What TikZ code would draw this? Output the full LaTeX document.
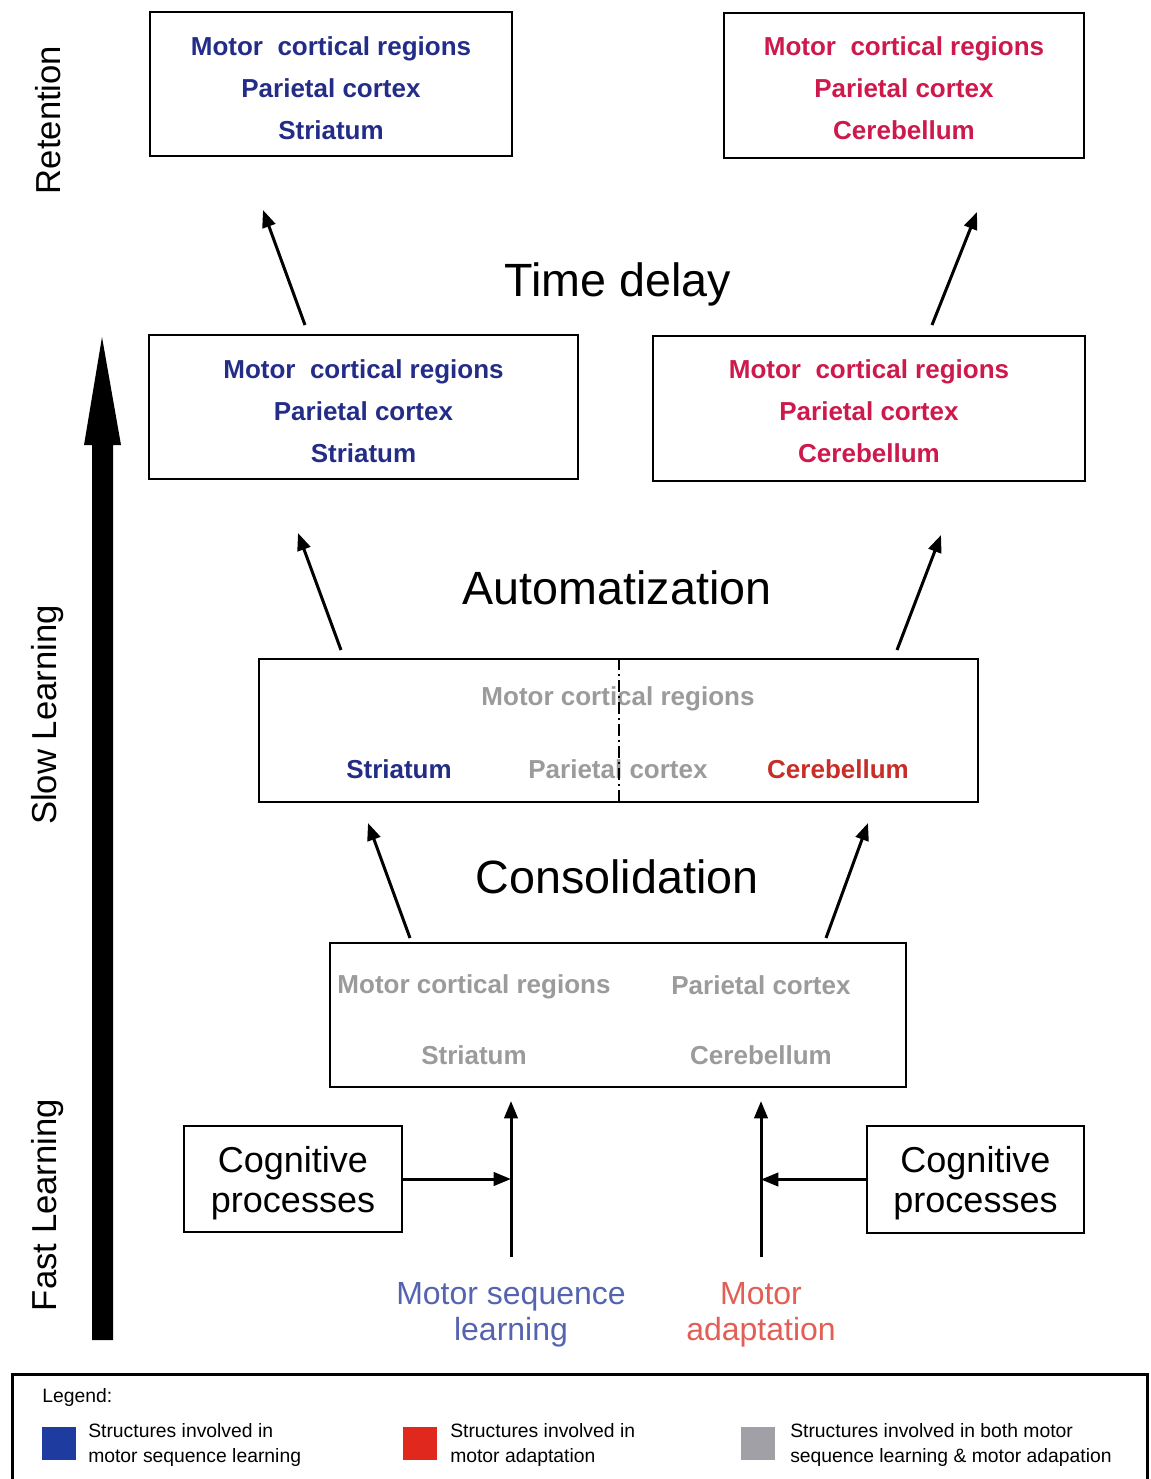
\documentclass[tikz,border=0pt]{standalone}
\usepackage{fontspec}
\setmainfont{Liberation Sans}
\usepackage{xcolor}
\usetikzlibrary{arrows.meta}

\definecolor{seqblue}{RGB}{35,45,135}
\definecolor{adared}{RGB}{205,25,75}
\definecolor{cerered}{RGB}{200,45,40}
\definecolor{bothgray}{RGB}{155,155,155}
\definecolor{seqlight}{RGB}{85,100,175}
\definecolor{adalight}{RGB}{225,95,85}
\definecolor{legblue}{RGB}{30,60,160}
\definecolor{legred}{RGB}{225,40,30}
\definecolor{leggray}{RGB}{160,160,166}

\tikzset{
  regionbox/.style={draw, line width=1.5pt, inner sep=0pt},
  regiontxt/.style={font=\fontsize{19.5}{31.5}\selectfont\bfseries, align=center, inner sep=0.75pt},
  stagetxt/.style={font=\fontsize{35}{42}\selectfont, inner sep=0.75pt},
  phasetxt/.style={font=\fontsize{26}{30}\selectfont, rotate=90, inner sep=0.75pt},
  cogtxt/.style={font=\fontsize{27}{30}\selectfont, align=center, inner sep=0.75pt},
  inputtxt/.style={font=\fontsize{24}{27}\selectfont, align=center, inner sep=0.75pt},
  flowarrow/.style={line width=2.25pt, -{Triangle[length=13pt,width=10pt]}},
  legtxt/.style={font=\fontsize{14.5}{18.75}\selectfont, align=left, anchor=west, inner sep=0pt},
  swatch/.style={minimum size=25pt, inner sep=0pt}
}

\begin{document}
\begin{tikzpicture}[x=0.75pt,y=0.75pt,yscale=-1,xscale=1]
\useasboundingbox[fill=white] (0,0) rectangle (1151,1479);

%Shape: Rectangle [retention, sequence]
\node[regionbox, minimum width=271.5pt, minimum height=108pt] (retseq) at (331,84) {};
\node[regiontxt, text=seqblue] (retseqtxt) at ([yshift=3.4pt]retseq.center) {Motor\ \ cortical regions\\Parietal cortex\\Striatum};
%Shape: Rectangle [retention, adaptation]
\node[regionbox, minimum width=270pt, minimum height=108.75pt] (retada) at (904,85.5) {};
\node[regiontxt, text=adared] (retadatxt) at ([yshift=2.25pt]retada.center) {Motor\ \ cortical regions\\Parietal cortex\\Cerebellum};

%Shape: Rectangle [slow learning, sequence]
\node[regionbox, minimum width=321.75pt, minimum height=108pt] (slowseq) at (363.5,407) {};
\node[regiontxt, text=seqblue] (slowseqtxt) at ([yshift=3pt]slowseq.center) {Motor\ \ cortical regions\\Parietal cortex\\Striatum};
%Shape: Rectangle [slow learning, adaptation]
\node[regionbox, minimum width=324pt, minimum height=108.75pt] (slowada) at (869,408.5) {};
\node[regiontxt, text=adared] (slowadatxt) at ([yshift=2.25pt]slowada.center) {Motor\ \ cortical regions\\Parietal cortex\\Cerebellum};

%Shape: Rectangle [automatization]
\node[regionbox, minimum width=539.25pt, minimum height=107.25pt] (auto) at (618.5,730.5) {};
% Text Node
\node[regiontxt, text=bothgray] (autoctx) at (618,699) {Motor cortical regions};
% Text Node
\node[regiontxt, text=seqblue] (autostr) at (399,769) {Striatum};
% Text Node
\node[regiontxt, text=bothgray] (autopar) at (618,769) {Parietal cortex};
% Text Node
\node[regiontxt, text=cerered] (autocer) at (838,769) {Cerebellum};
%Straight Lines [split]
\draw[line width=1.5pt, dash pattern=on 9pt off 3pt on 1.5pt off 3pt] (auto.north) -- (auto.south);

%Shape: Rectangle [consolidation]
\node[regionbox, minimum width=432pt, minimum height=108pt] (consol) at (618,1015) {};
% Text Node
\node[regiontxt, text=bothgray] (conctx) at (474,987) {Motor cortical regions};
% Text Node
\node[regiontxt, text=bothgray] (conpar) at (761,985) {Parietal cortex};
% Text Node
\node[regiontxt, text=bothgray] (constr) at (474,1055) {Striatum};
% Text Node
\node[regiontxt, text=bothgray] (concer) at (761,1055) {Cerebellum};

%Shape: Rectangle [cognitive, left]
\node[regionbox, minimum width=163.5pt, minimum height=79.5pt] (cogl) at (293,1179) {};
\node[cogtxt] (cogltxt) at ([yshift=3pt]cogl.center) {Cognitive\\processes};
%Shape: Rectangle [cognitive, right]
\node[regionbox, minimum width=162.75pt, minimum height=80.25pt] (cogr) at (975.5,1179.5) {};
\node[cogtxt] (cogrtxt) at ([yshift=3pt]cogr.center) {Cognitive\\processes};

% Text Node
\node[inputtxt, text=seqlight] (seqlbl) at (511,1315) {Motor sequence\\learning};
% Text Node
\node[inputtxt, text=adalight] (adalbl) at (761,1315) {Motor\\adaptation};

% Text Node
\node[stagetxt] (delay) at (618,284) {Time delay};
% Text Node
\node[stagetxt] (autolbl) at (617,588) {Automatization};
% Text Node
\node[stagetxt] (conlbl) at (617,877) {Consolidation};

% Text Node
\node[phasetxt] (retn) at (48,120) {Retention};
% Text Node
\node[phasetxt] (slow) at (48,715) {Slow Learning};
% Text Node
\node[phasetxt] (fast) at (48,1205) {Fast Learning};

%Arrows between stages
\coordinate (cala) at (410,938);
\coordinate (calb) at (368,823);
\coordinate (cara) at (826,938);
\coordinate (carb) at (868,823);
\coordinate (asla) at (341,650);
\coordinate (aslb) at (298,533);
\coordinate (asra) at (897,650);
\coordinate (asrb) at (941,535);
\coordinate (srla) at (305,325);
\coordinate (srlb) at (263,210);
\coordinate (srra) at (932,325);
\coordinate (srrb) at (977,212);
\draw[flowarrow] (cala) -- (calb);
\draw[flowarrow] (cara) -- (carb);
\draw[flowarrow] (asla) -- (aslb);
\draw[flowarrow] (asra) -- (asrb);
\draw[flowarrow] (srla) -- (srlb);
\draw[flowarrow] (srra) -- (srrb);

%Inputs
\draw[flowarrow, shorten <=18pt, shorten >=9.75pt] (seqlbl.north) -- (seqlbl.north |- consol.south);
\draw[flowarrow, shorten <=18pt, shorten >=9.75pt] (adalbl.north) -- (adalbl.north |- consol.south);
\draw[flowarrow] (cogl.east) -- (cogl.east -| seqlbl.north);
\draw[flowarrow] (cogr.west) -- (cogr.west -| adalbl.north);

%Shape: Big arrow
\fill (92,1340) -- (92,445) -- (84,445) -- (102,337) -- (121,445) -- (113,445) -- (113,1340) -- cycle;

%Legend
\node[draw, line width=2.25pt, minimum width=851.25pt, minimum height=83.25pt, inner sep=0pt] (legend) at (579.5,1429.5) {};
\node[legtxt] (legtitle) at (42,1397) {Legend:};
\node[swatch, fill=legblue] (swseq) at (59,1443.5) {};
\node[legtxt] (txseq) at (88,1445) {Structures involved in\\motor sequence learning};
\node[swatch, fill=legred] (swada) at (420,1443.5) {};
\node[legtxt] (txada) at (450,1445) {Structures involved in\\motor adaptation};
\node[swatch, fill=leggray] (swboth) at (758,1443.5) {};
\node[legtxt] (txboth) at (790,1445) {Structures involved in both motor\\sequence learning \& motor adapation};

\end{tikzpicture}
\end{document}
